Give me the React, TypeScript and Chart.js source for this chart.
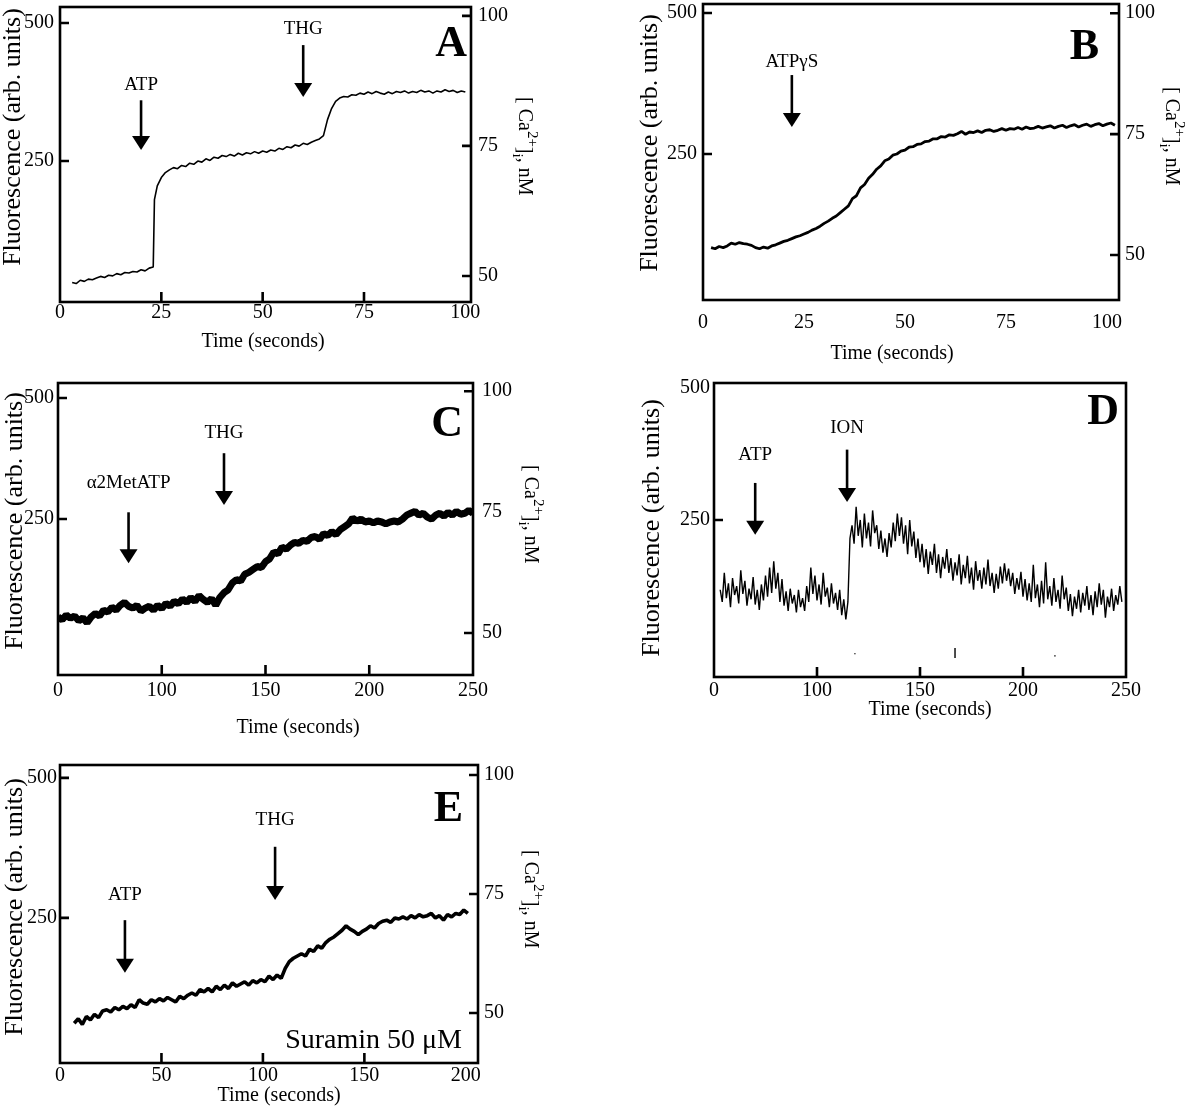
import React, { useEffect, useRef } from "react";
import { Chart, registerables } from "chart.js";

Chart.register(...registerables);

const SERIF = '"Liberation Serif", "Times New Roman", Times, serif';

// ---------------- Panel A data ----------------
const timeA = [3, 4, 5, 6, 7, 8, 9, 10, 11, 12, 13, 14, 15, 16, 17, 18, 19, 20, 21, 22, 23, 23.3,
  24, 25, 26, 27, 28, 29, 30, 31, 32, 33, 34, 35, 36, 37, 38, 39, 40, 41, 42, 43, 44, 45, 46, 47, 48, 49,
  50, 51, 52, 53, 54, 55, 56, 57, 58, 59, 60, 61, 62, 63, 64, 65, 66, 67, 68, 69, 70, 71, 72, 73, 74,
  75, 76, 77, 78, 79, 80, 81, 82, 83, 84, 85, 86, 87, 88, 89, 90, 91, 92, 93, 94, 95, 96, 97, 98, 99, 100];
const fluoA = [30, 28, 34, 32, 36, 35, 38, 41, 39, 43, 42, 46, 44, 48, 47, 50, 49, 53, 51, 56, 58, 180,
  205, 220, 229, 234, 238, 236, 242, 240, 246, 244, 250, 248, 254, 251, 257, 255, 260, 258, 262, 259, 264, 261, 265, 263, 267, 264,
  268, 266, 270, 268, 273, 271, 276, 274, 279, 277, 282, 280, 284, 287, 290, 296, 325, 345, 358, 364, 367, 366, 370, 369, 373,
  371, 375, 372, 376, 373, 371, 375, 372, 376, 374, 377, 373, 376, 374, 378, 375, 377, 373, 377, 375, 379, 376, 378, 374, 377, 375];

// ---------------- Panel B data ----------------
const timeB = [2, 3, 4, 5, 6, 7, 8, 9, 10, 11, 12, 13, 14, 15, 16, 17, 18, 19, 20, 21, 22, 23, 24, 25, 26, 27, 28, 29, 30, 31,
  32, 33, 34, 35, 36, 37, 38, 39, 40, 41, 42, 43, 44, 45, 46, 47, 48, 49, 50, 51, 52, 53, 54, 55, 56, 57, 58, 59, 60, 61,
  62, 63, 64, 65, 66, 67, 68, 69, 70, 71, 72, 73, 74, 75, 76, 77, 78, 79, 80, 81, 82, 83, 84, 85, 86, 87, 88, 89, 90, 91,
  92, 93, 94, 95, 96, 97, 98, 99, 100, 101, 102];
const fluoB = [84, 82, 86, 84, 87, 92, 90, 93, 91, 90, 88, 84, 82, 85, 83, 87, 89, 92, 95, 97, 100, 103, 105, 108, 111, 115, 118, 122, 127, 131,
  136, 140, 146, 152, 158, 171, 176, 190, 196, 207, 214, 223, 229, 238, 241, 248, 250, 255, 257, 262, 263, 267, 268, 272, 273, 277, 277, 281, 280, 284,
  283, 286, 290, 285, 289, 288, 291, 288, 292, 293, 290, 292, 295, 292, 295, 294, 297, 294, 298, 295, 296, 299, 296, 298, 300, 296, 299, 301, 297, 300,
  302, 298, 301, 303, 299, 302, 304, 300, 303, 305, 301];

// ---------------- Panel C data ----------------
const timeC = [50, 52, 54, 56, 58, 60, 62, 64, 66, 68, 70, 72, 74, 76, 78, 80, 82, 84, 86, 88,
  90, 92, 94, 96, 98, 100, 102, 104, 106, 108, 110, 112, 114, 116, 118, 120, 122, 124, 126, 128,
  130, 132, 134, 136, 138, 140, 142, 144, 146, 148, 150, 152, 154, 156, 158, 160, 162, 164, 166, 168,
  170, 172, 174, 176, 178, 180, 182, 184, 186, 188, 190, 192, 194, 196, 198, 200, 202, 204, 206, 208,
  210, 212, 214, 216, 218, 220, 222, 224, 226, 228, 230, 232, 234, 236, 238, 240, 242, 244, 246, 248, 250];
const fluoC = [48, 42, 52, 45, 50, 40, 46, 36, 48, 55, 50, 62, 58, 68, 62, 72, 78, 70, 66, 72,
  60, 66, 70, 62, 72, 65, 76, 70, 80, 75, 85, 78, 88, 80, 92, 84, 78, 86, 72, 88,
  98, 104, 118, 125, 122, 136, 140, 146, 152, 150, 162, 168, 182, 178, 192, 188, 196, 202, 200, 206,
  204, 212, 214, 208, 220, 216, 224, 218, 228, 234, 240, 252, 246, 250, 244, 246, 242, 246, 244, 240,
  244, 246, 244, 250, 258, 262, 266, 258, 262, 254, 250, 258, 262, 256, 264, 258, 266, 260, 262, 268, 262];

// ---------------- Panel D data ----------------
const timeD = [53, 54, 55, 56, 57, 58, 59, 60, 61, 62, 63, 64, 65, 66, 67, 68, 69, 70, 71, 72,
  73, 74, 75, 76, 77, 78, 79, 80, 81, 82, 83, 84, 85, 86, 87, 88, 89, 90, 91, 92,
  93, 94, 95, 96, 97, 98, 99, 100, 101, 102, 103, 104, 105, 106, 107, 108, 109, 110, 111, 112,
  113, 114, 115, 116, 117, 118, 119, 120, 121, 122, 123, 124, 125, 126, 127, 128, 129, 130, 131, 132,
  133, 134, 135, 136, 137, 138, 139, 140, 141, 142, 143, 144, 145, 146, 147, 148, 149, 150, 151, 152,
  153, 154, 155, 156, 157, 158, 159, 160, 161, 162, 163, 164, 165, 166, 167, 168, 169, 170, 171, 172,
  173, 174, 175, 176, 177, 178, 179, 180, 181, 182, 183, 184, 185, 186, 187, 188, 189, 190, 191, 192,
  193, 194, 195, 196, 197, 198, 199, 200, 201, 202, 203, 204, 205, 206, 207, 208, 209, 210, 211, 212,
  213, 214, 215, 216, 217, 218, 219, 220, 221, 222, 223, 224, 225, 226, 227, 228, 229, 230, 231, 232,
  233, 234, 235, 236, 237, 238, 239, 240, 241, 242, 243, 244, 245, 246, 247, 248];
const fluoD = [118, 95, 150, 102, 130, 85, 140, 108, 125, 92, 155, 110, 135, 88, 120, 100, 142, 90, 118, 80,
  128, 98, 145, 105, 160, 112, 172, 120, 150, 95, 138, 88, 115, 78, 120, 92, 108, 75, 118, 85,
  102, 78, 125, 95, 160, 110, 145, 98, 128, 90, 150, 105, 122, 85, 130, 92, 112, 80, 118, 70,
  100, 62, 95, 215, 240, 205, 275, 220, 250, 198, 262, 215, 245, 200, 268, 225, 240, 195, 230, 188,
  215, 180, 225, 198, 245, 210, 262, 220, 255, 205, 240, 185, 250, 200, 228, 178, 215, 170, 205, 160,
  195, 148, 190, 165, 205, 150, 185, 140, 180, 158, 195, 150, 178, 135, 170, 145, 185, 128, 165, 140,
  182, 130, 160, 118, 172, 135, 155, 120, 160, 128, 175, 125, 150, 112, 148, 120, 162, 130, 168, 135,
  158, 125, 150, 110, 140, 118, 152, 105, 138, 98, 130, 95, 165, 102, 128, 85, 135, 92, 170, 100,
  125, 88, 140, 95, 118, 82, 145, 100, 122, 78, 110, 68, 105, 82, 118, 75, 112, 88, 125, 80,
  108, 70, 115, 85, 130, 90, 118, 65, 105, 85, 120, 78, 108, 90, 125, 95];

// ---------------- Panel E data ----------------
const timeE = [7, 9, 11, 13, 15, 17, 19, 21, 23, 25, 27, 29, 31, 33, 35, 37, 39, 41, 43, 45,
  47, 49, 51, 53, 55, 57, 59, 61, 63, 65, 67, 69, 71, 73, 75, 77, 79, 81, 83, 85,
  87, 89, 91, 93, 95, 97, 99, 101, 103, 105, 107, 109, 111, 113, 115, 117, 119, 121, 123, 125,
  127, 129, 131, 133, 135, 137, 139, 141, 143, 145, 147, 149, 151, 153, 155, 157, 159, 161, 163, 165,
  167, 169, 171, 173, 175, 177, 179, 181, 183, 185, 187, 189, 191, 193, 195, 197, 199, 201];
const fluoE = [62, 70, 60, 74, 68, 78, 72, 84, 86, 82, 90, 86, 92, 88, 95, 90, 104, 98, 96, 104,
  100, 106, 102, 108, 104, 100, 110, 106, 112, 116, 112, 122, 118, 124, 118, 128, 122, 130, 124, 134,
  128, 132, 136, 130, 138, 134, 140, 136, 146, 140, 148, 142, 160, 172, 178, 182, 186, 182, 194, 190,
  200, 196, 206, 212, 216, 222, 228, 236, 230, 226, 220, 226, 230, 236, 232, 240, 244, 246, 242, 250,
  248, 252, 248, 254, 250, 256, 252, 254, 258, 250, 254, 246, 256, 252, 258, 256, 264, 258];

// ---------------- ticks & labels ----------------
const leftTickValues = [250, 500];
const leftTickLabels = ["250", "500"];
const rightTickValues = [50, 75, 100];
const rightTickLabels = ["50", "75", "100"];
const xTickValuesAB = [0, 25, 50, 75, 100];
const xTickLabelsAB = ["0", "25", "50", "75", "100"];
const xTickValuesCD = [50, 100, 150, 200, 250];
const xTickLabelsCD = ["0", "100", "150", "200", "250"];
const xTickValuesE = [0, 50, 100, 150, 200];
const xTickLabelsE = ["0", "50", "100", "150", "200"];

// additions (agent, time of addition in seconds)
const eventLabelsA = ["ATP", "THG"];
const eventTimesA = [20, 60];
const eventLabelsB = ["ATPγS"];
const eventTimesB = [22];
const eventLabelsC = ["α2MetATP", "THG"];
const eventTimesC = [84, 130];
const eventLabelsD = ["ATP", "ION"];
const eventTimesD = [70, 114.6];
const eventLabelsE = ["ATP", "THG"];
const eventTimesE = [32, 106];

type Box = { x: number; y: number; w: number; h: number };
type Frame = { l: number; t: number; r: number; b: number };
type ArrowLayout = { top: number; tip: number; labelY: number };
type Panel = {
  letter: string;
  time: number[];
  fluo: number[];
  lineWidth: number;
  canvas: Box;
  frame: Frame;
  xRange: [number, number];
  yRange: [number, number];
  rRange: [number, number] | null;
  xTicks: number[];
  xLabels: string[];
  xMarks: number[];
  yMarks: number[];
  rMarks: number[];
  xPad: number;
  yPad: number;
  rPad: number;
  yTitle: { x: number; y: number };
  xTitle: { x: number; y: number };
  rTitle: { x: number; y: number } | null;
  letterPos: { x: number; y: number };
  eventLabels: string[];
  eventTimes: number[];
  arrows: ArrowLayout[];
  note?: { text: string; x: number; y: number };
  specks?: { t: number; v1: number; v2: number }[];
};

const panels: Panel[] = [
  {
    letter: "A", time: timeA, fluo: fluoA, lineWidth: 1.6,
    canvas: { x: 0, y: -20, w: 590, h: 380 },
    frame: { l: 60, t: 7, r: 471, b: 302 },
    xRange: [0, 101.4], yRange: [-5.4, 529], rRange: [45, 101.7],
    xTicks: xTickValuesAB, xLabels: xTickLabelsAB, xMarks: [25, 50, 75],
    yMarks: [250, 500], rMarks: [50, 75, 100],
    xPad: -1, yPad: 6, rPad: 7,
    yTitle: { x: 13, y: 137 }, xTitle: { x: 263, y: 342 }, rTitle: { x: 524, y: 97 },
    letterPos: { x: 467, y: 56 },
    eventLabels: eventLabelsA, eventTimes: eventTimesA,
    arrows: [{ top: 360, tip: 270, labelY: 388 }, { top: 460, tip: 366, labelY: 489 }],
  },
  {
    letter: "B", time: timeB, fluo: fluoB, lineWidth: 2.8,
    canvas: { x: 600, y: -20, w: 600, h: 392 },
    frame: { l: 703, t: 4, r: 1119, b: 300 },
    xRange: [0, 103], yRange: [-8.9, 516], rRange: [40.7, 101.9],
    xTicks: xTickValuesAB, xLabels: xTickLabelsAB, xMarks: [],
    yMarks: [250, 500], rMarks: [50, 75, 100],
    xPad: 11, yPad: 6, rPad: 6,
    yTitle: { x: 650, y: 143 }, xTitle: { x: 892, y: 354 }, rTitle: { x: 1171, y: 87 },
    letterPos: { x: 1099, y: 59 },
    eventLabels: eventLabelsB, eventTimes: eventTimesB,
    arrows: [{ top: 390, tip: 298, labelY: 413 }],
  },
  {
    letter: "C", time: timeC, fluo: fluoC, lineWidth: 7,
    canvas: { x: 0, y: 360, w: 590, h: 390 },
    frame: { l: 58, t: 383, r: 473, b: 675 },
    xRange: [50, 250], yRange: [-72, 531], rRange: [41.3, 101.7],
    xTicks: xTickValuesCD, xLabels: xTickLabelsCD, xMarks: [100, 150, 200],
    yMarks: [250, 500], rMarks: [50, 75, 100],
    xPad: 4, yPad: 4, rPad: 9,
    yTitle: { x: 15, y: 521 }, xTitle: { x: 298, y: 728 }, rTitle: { x: 530, y: 465 },
    letterPos: { x: 463, y: 436 },
    eventLabels: eventLabelsC, eventTimes: eventTimesC,
    arrows: [{ top: 264, tip: 159, labelY: 324 }, { top: 386, tip: 279, labelY: 428 }],
  },
  {
    letter: "D", time: timeD, fluo: fluoD, lineWidth: 1.4,
    canvas: { x: 600, y: 358, w: 600, h: 382 },
    frame: { l: 714, t: 383, r: 1126, b: 677 },
    xRange: [50, 250], yRange: [-47, 509], rRange: null,
    xTicks: xTickValuesCD, xLabels: xTickLabelsCD, xMarks: [100, 150, 200],
    yMarks: [250], rMarks: [],
    xPad: 2, yPad: 4, rPad: 0,
    yTitle: { x: 652, y: 528 }, xTitle: { x: 930, y: 710 }, rTitle: null,
    letterPos: { x: 1119, y: 424 },
    eventLabels: eventLabelsD, eventTimes: eventTimesD,
    arrows: [{ top: 320, tip: 222, labelY: 373 }, { top: 383, tip: 284, labelY: 424 }],
    specks: [{ t: 167, v1: 8, v2: -11 }, { t: 118.4, v1: -2, v2: -4 }, { t: 215.5, v1: -6, v2: -8 }],
  },
  {
    letter: "E", time: timeE, fluo: fluoE, lineWidth: 3.6,
    canvas: { x: 0, y: 740, w: 590, h: 370 },
    frame: { l: 60, t: 765, r: 478, b: 1063 },
    xRange: [0, 206], yRange: [-9, 523], rRange: [39.5, 102.1],
    xTicks: xTickValuesE, xLabels: xTickLabelsE, xMarks: [50, 100, 150],
    yMarks: [250, 500], rMarks: [50, 75, 100],
    xPad: 1, yPad: 3, rPad: 6,
    yTitle: { x: 15, y: 907 }, xTitle: { x: 279, y: 1096 }, rTitle: { x: 530, y: 850 },
    letterPos: { x: 463, y: 821 },
    eventLabels: eventLabelsE, eventTimes: eventTimesE,
    arrows: [{ top: 246, tip: 152, labelY: 291 }, { top: 377, tip: 282, labelY: 425 }],
    note: { text: "Suramin 50 μM", x: 462, y: 1048 },
  },
];

function makeDecor(p: Panel) {
  return {
    id: "decor" + p.letter,
    afterDraw(chart: any) {
      const ctx: CanvasRenderingContext2D = chart.ctx;
      const ca = chart.chartArea;
      const xs = chart.scales.x;
      const ys = chart.scales.y;
      const rs = chart.scales.y2;
      const ox = p.canvas.x;
      const oy = p.canvas.y;
      ctx.save();
      ctx.strokeStyle = "#000";
      ctx.fillStyle = "#000";

      // inward tick marks
      ctx.lineWidth = 2.6;
      ctx.beginPath();
      for (const v of p.yMarks) {
        const y = ys.getPixelForValue(v);
        ctx.moveTo(ca.left, y);
        ctx.lineTo(ca.left + 9, y);
      }
      if (rs) {
        for (const v of p.rMarks) {
          const y = rs.getPixelForValue(v);
          ctx.moveTo(ca.right - 9, y);
          ctx.lineTo(ca.right, y);
        }
      }
      for (const v of p.xMarks) {
        const x = xs.getPixelForValue(v);
        ctx.moveTo(x, ca.bottom);
        ctx.lineTo(x, ca.bottom - 10);
      }
      ctx.stroke();

      // frame
      ctx.lineWidth = 2.6;
      ctx.strokeRect(ca.left, ca.top, ca.right - ca.left, ca.bottom - ca.top);

      // specks (small artefact marks)
      if (p.specks) {
        ctx.lineWidth = 1.4;
        ctx.beginPath();
        for (const s of p.specks) {
          const x = xs.getPixelForValue(s.t);
          ctx.moveTo(x, ys.getPixelForValue(s.v1));
          ctx.lineTo(x, ys.getPixelForValue(s.v2));
        }
        ctx.stroke();
      }

      // arrows
      p.arrows.forEach((a, i) => {
        const x = xs.getPixelForValue(p.eventTimes[i]);
        const yTop = ys.getPixelForValue(a.top);
        const yTip = ys.getPixelForValue(a.tip);
        const headH = 14;
        const headW = 9;
        ctx.lineWidth = 2.6;
        ctx.beginPath();
        ctx.moveTo(x, yTop);
        ctx.lineTo(x, yTip - headH + 1);
        ctx.stroke();
        ctx.beginPath();
        ctx.moveTo(x - headW, yTip - headH);
        ctx.lineTo(x + headW, yTip - headH);
        ctx.lineTo(x, yTip);
        ctx.closePath();
        ctx.fill();
        ctx.font = `19px ${SERIF}`;
        ctx.textAlign = "center";
        ctx.textBaseline = "middle";
        ctx.fillText(p.eventLabels[i], x, ys.getPixelForValue(a.labelY));
      });

      // left title
      ctx.save();
      ctx.translate(p.yTitle.x - ox, p.yTitle.y - oy);
      ctx.rotate(-Math.PI / 2);
      ctx.font = `26px ${SERIF}`;
      ctx.textAlign = "center";
      ctx.textBaseline = "middle";
      ctx.fillText("Fluorescence (arb. units)", 0, 0);
      ctx.restore();

      // right title
      if (p.rTitle) {
        ctx.save();
        ctx.translate(p.rTitle.x - ox, p.rTitle.y - oy);
        ctx.rotate(Math.PI / 2);
        ctx.textAlign = "left";
        ctx.textBaseline = "middle";
        let cx = 0;
        const seg = (t: string, size: number, dy: number) => {
          ctx.font = `${size}px ${SERIF}`;
          ctx.fillText(t, cx, dy);
          cx += ctx.measureText(t).width;
        };
        seg("[ Ca", 20, 0);
        seg("2+", 15, -8);
        seg("]", 20, 0);
        seg("i", 15, 7);
        seg(", nM", 20, 0);
        ctx.restore();
      }

      // bottom title
      ctx.font = `20px ${SERIF}`;
      ctx.textAlign = "center";
      ctx.textBaseline = "middle";
      ctx.fillText("Time (seconds)", p.xTitle.x - ox, p.xTitle.y - oy);

      // panel letter
      ctx.font = `bold 44px ${SERIF}`;
      ctx.textAlign = "right";
      ctx.textBaseline = "alphabetic";
      ctx.fillText(p.letter, p.letterPos.x - ox, p.letterPos.y - oy);

      // note
      if (p.note) {
        ctx.font = `28px ${SERIF}`;
        ctx.textAlign = "right";
        ctx.textBaseline = "alphabetic";
        ctx.fillText(p.note.text, p.note.x - ox, p.note.y - oy);
      }
      ctx.restore();
    },
  };
}

function buildChart(canvas: HTMLCanvasElement, p: Panel) {
  const points = p.time.map((t, i) => ({ x: t, y: p.fluo[i] }));
  const tickFont = { family: SERIF, size: 20 };
  const canvasBottom = p.canvas.y + p.canvas.h;
  const canvasRight = p.canvas.x + p.canvas.w;
  const noGrid = { display: false, drawTicks: false, tickLength: 0 };
  const scales: any = {
    x: {
      type: "linear",
      position: "bottom",
      min: p.xRange[0],
      max: p.xRange[1],
      afterBuildTicks: (s: any) => {
        s.ticks = p.xTicks.map((v) => ({ value: v }));
      },
      afterFit: (s: any) => {
        s.height = canvasBottom - p.frame.b;
      },
      ticks: {
        autoSkip: false,
        maxRotation: 0,
        minRotation: 0,
        padding: p.xPad,
        color: "#000",
        font: tickFont,
        callback: (v: number) => {
          const k = p.xTicks.indexOf(v);
          return k >= 0 ? p.xLabels[k] : "";
        },
      },
      grid: noGrid,
      border: { display: false },
    },
    y: {
      type: "linear",
      position: "left",
      min: p.yRange[0],
      max: p.yRange[1],
      afterBuildTicks: (s: any) => {
        s.ticks = leftTickValues.map((v) => ({ value: v }));
      },
      afterFit: (s: any) => {
        s.width = p.frame.l - p.canvas.x;
      },
      ticks: {
        padding: p.yPad,
        color: "#000",
        font: tickFont,
        callback: (v: number) => {
          const k = leftTickValues.indexOf(v);
          return k >= 0 ? leftTickLabels[k] : "";
        },
      },
      grid: noGrid,
      border: { display: false },
    },
  };
  if (p.rRange) {
    scales.y2 = {
      type: "linear",
      position: "right",
      min: p.rRange[0],
      max: p.rRange[1],
      afterBuildTicks: (s: any) => {
        s.ticks = rightTickValues.map((v) => ({ value: v }));
      },
      afterFit: (s: any) => {
        s.width = canvasRight - p.frame.r;
      },
      ticks: {
        padding: p.rPad,
        color: "#000",
        font: tickFont,
        callback: (v: number) => {
          const k = rightTickValues.indexOf(v);
          return k >= 0 ? rightTickLabels[k] : "";
        },
      },
      grid: noGrid,
      border: { display: false },
    };
  }
  return new Chart(canvas, {
    type: "line",
    data: {
      datasets: [
        {
          data: points,
          borderColor: "#000",
          borderWidth: p.lineWidth,
          borderJoinStyle: "bevel",
          pointRadius: 0,
          tension: 0,
          fill: false,
          xAxisID: "x",
          yAxisID: "y",
        } as any,
      ],
    },
    options: {
      animation: false,
      responsive: false,
      maintainAspectRatio: false,
      devicePixelRatio: 1,
      events: [],
      layout: {
        padding: {
          left: 0,
          top: p.frame.t - p.canvas.y,
          right: p.rRange ? 0 : canvasRight - p.frame.r,
          bottom: 0,
        },
      },
      plugins: {
        legend: { display: false },
        tooltip: { enabled: false },
        title: { display: false },
      },
      scales,
    } as any,
    plugins: [makeDecor(p) as any],
  });
}

export default function App() {
  const refs = useRef<(HTMLCanvasElement | null)[]>([]);
  useEffect(() => {
    const charts = panels.map((p, i) => buildChart(refs.current[i] as HTMLCanvasElement, p));
    return () => {
      charts.forEach((c) => c.destroy());
    };
  }, []);
  return (
    <div
      style={{
        position: "absolute",
        left: 0,
        top: 0,
        width: 1200,
        height: 1110,
        background: "#fff",
        overflow: "hidden",
      }}
    >
      {panels.map((p, i) => (
        <canvas
          key={p.letter}
          ref={(el) => {
            refs.current[i] = el;
          }}
          width={p.canvas.w}
          height={p.canvas.h}
          style={{
            position: "absolute",
            left: p.canvas.x,
            top: p.canvas.y,
            width: p.canvas.w,
            height: p.canvas.h,
          }}
        />
      ))}
    </div>
  );
}
